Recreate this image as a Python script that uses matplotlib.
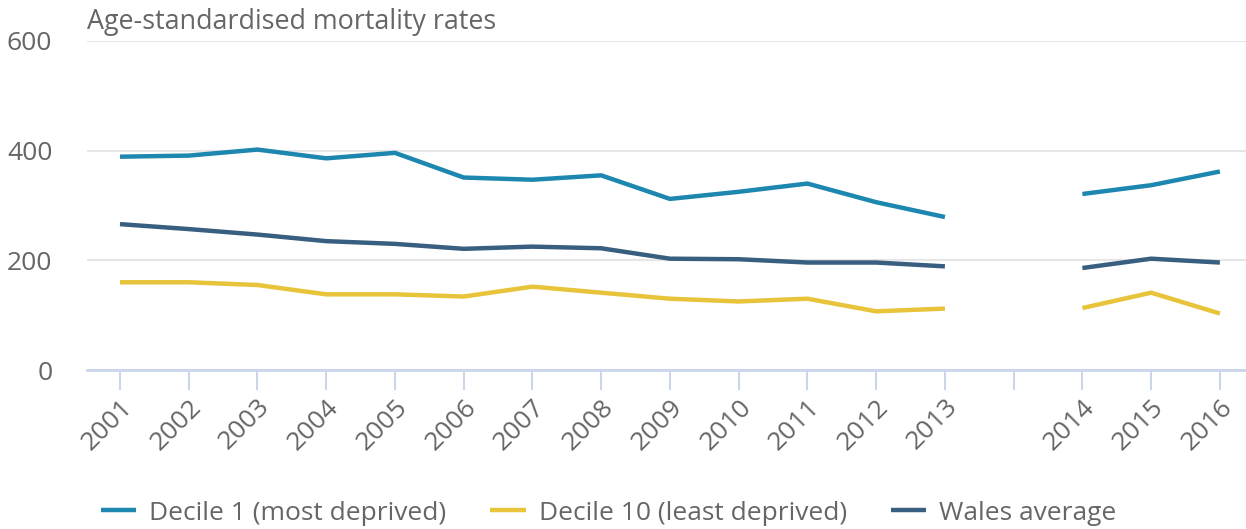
import numpy as np
import matplotlib.pyplot as plt

years = ['2001', '2002', '2003', '2004', '2005', '2006', '2007', '2008', '2009',
         '2010', '2011', '2012', '2013', '', '2014', '2015', '2016']
decile1 = [389, 391, 402, 386, 396, 351, 347, 355, 312, 325, 340, 306, 279,
           np.nan, 321, 337, 362]
decile10 = [160, 160, 155, 138, 138, 134, 152, 141, 130, 125, 130, 107, 112,
            np.nan, 113, 141, 103]
wales = [266, 257, 247, 235, 230, 221, 225, 222, 203, 202, 196, 196, 189,
         np.nan, 186, 203, 196]

plt.rcParams['font.family'] = ['Open Sans', 'DejaVu Sans']
txt = '#666666'
fs = 19

fig = plt.figure(figsize=(12.46, 5.29), dpi=100)
ax = fig.add_axes([87 / 1246, 1 - 370 / 529, (1246 - 87) / 1246, 329 / 529])

x = np.arange(len(years))
ax.plot(x, decile1, color='#1d87b0', lw=3.2, label='Decile 1 (most deprived)', solid_capstyle='butt')
ax.plot(x, decile10, color='#e7c43a', lw=3.2, label='Decile 10 (least deprived)', solid_capstyle='butt')
ax.plot(x, wales, color='#385e80', lw=3.2, label='Wales average', solid_capstyle='butt')

ax.set_xlim(-0.48, 16.38)
ax.set_ylim(0, 600)
ax.set_yticks([0, 200, 400, 600])
ax.grid(axis='y', color='#e6e6e6', lw=1.5)
ax.set_axisbelow(True)
for s in ['top', 'right', 'left']:
    ax.spines[s].set_visible(False)
ax.spines['bottom'].set_color('#ccd6eb')
ax.spines['bottom'].set_linewidth(2)

ax.set_xticks(x)
ax.set_xticklabels(years, rotation=45, ha='right', rotation_mode='anchor')
ax.tick_params(axis='x', length=14.5, width=1.5, color='#ccd6eb', labelsize=fs,
               labelcolor=txt, pad=3)
ax.tick_params(axis='y', length=0, labelsize=fs, labelcolor=txt, pad=25)

fig.text(87 / 1246, 1 - 22 / 529, 'Age-standardised mortality rates', fontsize=19.4,
         color=txt, va='center', ha='left')

fig.legend(loc='center left', bbox_to_anchor=(90 / 1246, 1 - 513 / 529), ncol=3,
           frameon=False, borderaxespad=0, fontsize=fs, labelcolor=txt,
           handlelength=1.35, columnspacing=1.65, handletextpad=0.5)

fig.savefig('out.png', dpi=100)
